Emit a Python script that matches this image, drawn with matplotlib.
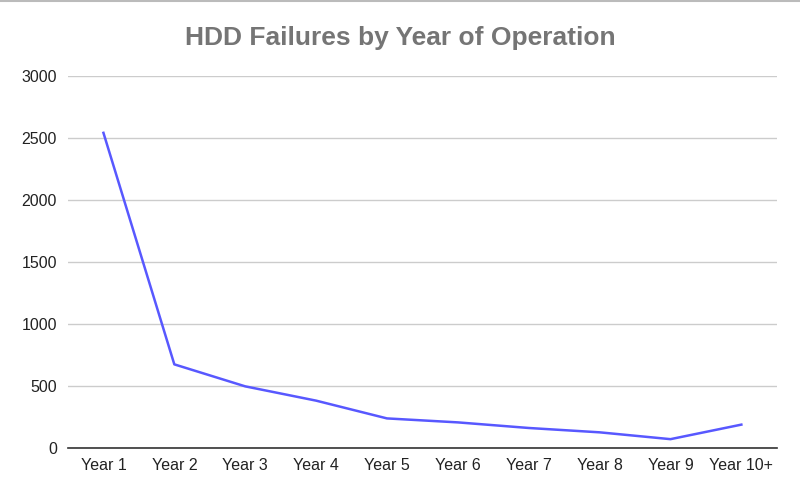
import matplotlib
matplotlib.use("Agg")
import matplotlib.pyplot as plt
from matplotlib.lines import Line2D

years = ["Year 1", "Year 2", "Year 3", "Year 4", "Year 5",
         "Year 6", "Year 7", "Year 8", "Year 9", "Year 10+"]
failures = [2540, 677, 500, 385, 242, 210, 165, 130, 75, 192]
yticks = [0, 500, 1000, 1500, 2000, 2500, 3000]

plt.rcParams["font.family"] = ["Liberation Sans", "DejaVu Sans"]

fig = plt.figure(figsize=(8, 4.93), dpi=100)
ax = fig.add_axes([0.085, 0.0903, 0.886, 0.7562])

x = list(range(len(years)))
ax.plot(x, failures, color="#5858ff", linewidth=1.8, solid_joinstyle="round")

ax.set_xlim(-0.5, len(years) - 0.5)
ax.set_ylim(0, 3000)
ax.set_xticks(x)
ax.set_xticklabels(years)
ax.set_yticks(yticks)
ax.set_yticklabels([str(v) for v in yticks])
ax.tick_params(axis="both", length=0, labelsize=11.5, colors="#222222")
ax.tick_params(axis="y", pad=8)
ax.tick_params(axis="x", pad=7)

ax.grid(axis="y", color="#cccccc", linewidth=1)
ax.set_axisbelow(True)
for s in ["top", "right", "left"]:
    ax.spines[s].set_visible(False)
ax.spines["bottom"].set_color("#333333")
ax.spines["bottom"].set_linewidth(1.2)

fig.text(0.5, 1 - 38 / 493, "HDD Failures by Year of Operation",
         ha="center", va="center", fontsize=19, fontweight="bold",
         color="#757575")

# thin border at the top of the image
fig.add_artist(Line2D([0, 1], [0.998, 0.998], transform=fig.transFigure,
                      color="#bbbbbb", linewidth=1.5))

fig.savefig("out.png", dpi=100)
